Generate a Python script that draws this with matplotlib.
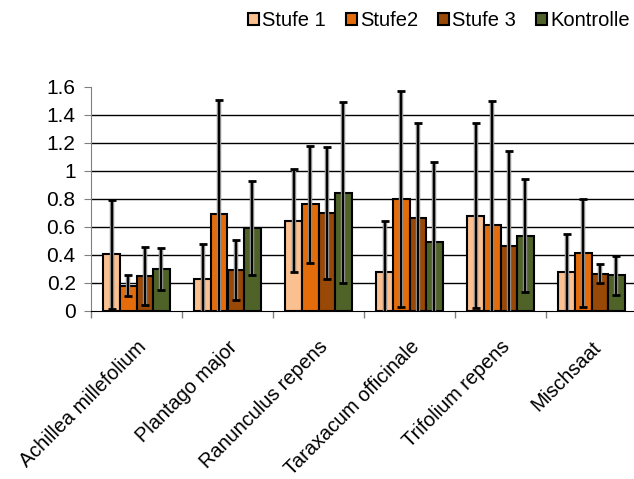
import numpy as np
import matplotlib.pyplot as plt
import matplotlib.transforms as mtransforms
from matplotlib.patches import Patch

plt.rcParams['font.family'] = ['Liberation Sans', 'DejaVu Sans']

# Daten
arten = ["Achillea millefolium", "Plantago major", "Ranunculus repens",
         "Taraxacum officinale", "Trifolium repens", "Mischsaat"]
serien = ["Stufe 1", "Stufe2", "Stufe 3", "Kontrolle"]
stufe1 = [0.405, 0.23, 0.645, 0.275, 0.68, 0.275]
stufe2 = [0.18, 0.695, 0.76, 0.80, 0.617, 0.414]
stufe3 = [0.25, 0.29, 0.70, 0.662, 0.467, 0.266]
kontrolle = [0.30, 0.595, 0.843, 0.493, 0.538, 0.255]
fehler1 = [0.39, 0.245, 0.368, 0.364, 0.66, 0.274]
fehler2 = [0.075, 0.81, 0.42, 0.77, 0.878, 0.383]
fehler3 = [0.21, 0.213, 0.47, 0.676, 0.671, 0.068]
fehler_k = [0.15, 0.335, 0.645, 0.569, 0.405, 0.14]
y_labels = ["0", "0.2", "0.4", "0.6", "0.8", "1", "1.2", "1.4", "1.6"]

farben = ["#FAC090", "#E46C0A", "#984807", "#4F6228"]

werte = [stufe1, stufe2, stufe3, kontrolle]
fehler = [fehler1, fehler2, fehler3, fehler_k]

fig = plt.figure(figsize=(6.34, 4.79), dpi=100)
ax = fig.add_axes([91 / 634, 1 - 311 / 479, 546 / 634, 224.3 / 479])

x = np.arange(len(arten))
w = 0.182
for i in range(4):
    pos = x + (i - 1.5) * w
    ax.bar(pos, werte[i], width=w, color=farben[i], edgecolor="black",
           linewidth=1.5, zorder=3)
    # grauer Schatten + schwarzer Fehlerbalken
    ax.errorbar(pos, werte[i], yerr=fehler[i], fmt="none", ecolor="#8a8a8a",
                elinewidth=3.2, capsize=0, zorder=4)
    ax.errorbar(pos, werte[i], yerr=fehler[i], fmt="none", ecolor="black",
                elinewidth=1.4, capsize=3.2, capthick=2, zorder=5)

ax.set_ylim(0, 1.6)
ax.set_xlim(-0.5, len(arten) - 0.5)
ax.set_yticks(np.arange(0, 1.61, 0.2))
ax.set_yticklabels(y_labels, fontsize=15)
for yv in np.arange(0.2, 1.41, 0.2):
    ax.axhline(yv, color="black", linewidth=1, zorder=1)

ax.set_xticks(x)
ax.set_xticklabels(arten, rotation=45, ha="right", va="top",
                   rotation_mode="anchor", fontsize=14.3)
verschiebung = mtransforms.ScaledTranslation(-4 / 100, 0, fig.dpi_scale_trans)
for lab in ax.get_xticklabels():
    lab.set_transform(lab.get_transform() + verschiebung)
ax.tick_params(axis="x", which="major", length=0, pad=19)
ax.set_xticks(np.arange(-0.5, len(arten), 1), minor=True)
ax.tick_params(axis="x", which="minor", length=5, color="#808080", width=1)
ax.tick_params(axis="y", length=5, color="#808080", pad=6)

for s in ["top", "right"]:
    ax.spines[s].set_visible(False)
ax.spines["left"].set_color("#808080")
ax.spines["bottom"].set_color("black")
ax.spines["bottom"].set_zorder(6)

handles = [Patch(facecolor=farben[i], edgecolor="black", linewidth=1.5, label=serien[i])
           for i in range(4)]
fig.legend(handles=handles, loc="center right", bbox_to_anchor=(0.997, 1 - 21 / 479),
           ncol=4, frameon=False, fontsize=14.5, handlelength=0.55, handleheight=0.55,
           handletextpad=0.15, columnspacing=1.0, borderaxespad=0, borderpad=0.1)

fig.savefig("out.png", dpi=100)
